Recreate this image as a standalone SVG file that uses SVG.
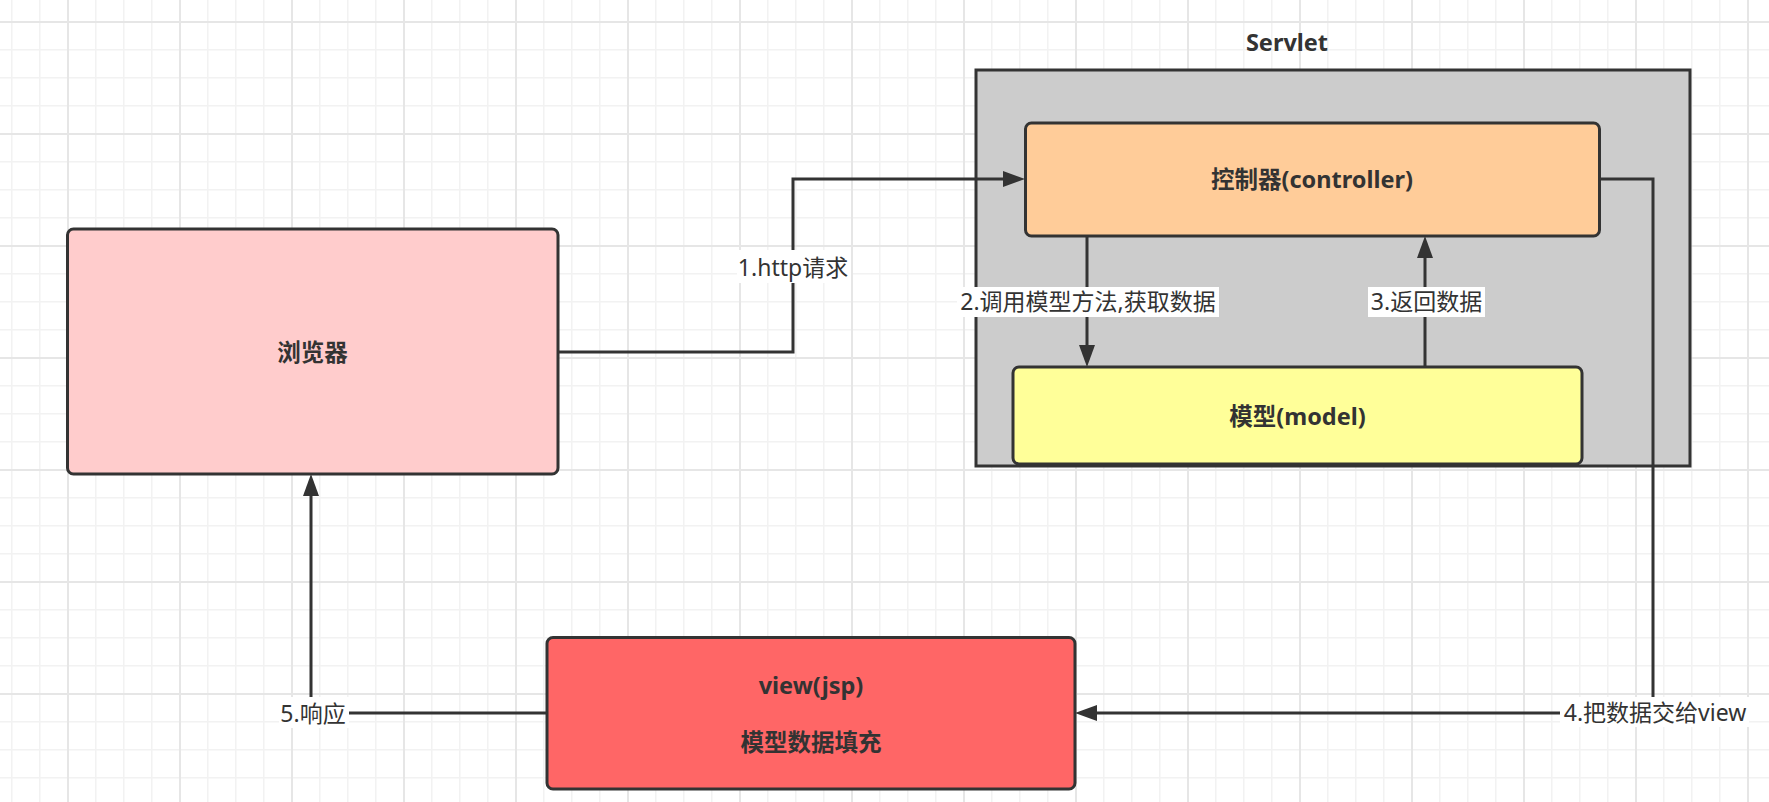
<svg xmlns="http://www.w3.org/2000/svg" width="1769" height="802" viewBox="0 0 1769 802">
<defs>
<pattern id="grid" patternUnits="userSpaceOnUse" x="67" y="21" width="112" height="112">
<rect x="0" y="0" width="112" height="112" fill="#ffffff"/>
<rect x="28" y="0" width="1.5" height="112" fill="#f2f2f2"/>
<rect x="56" y="0" width="1.5" height="112" fill="#f2f2f2"/>
<rect x="84" y="0" width="1.5" height="112" fill="#f2f2f2"/>
<rect x="0" y="28" width="112" height="1.5" fill="#f2f2f2"/>
<rect x="0" y="56" width="112" height="1.5" fill="#f2f2f2"/>
<rect x="0" y="84" width="112" height="1.5" fill="#f2f2f2"/>
<rect x="0" y="0" width="2" height="112" fill="#e6e6e6"/>
<rect x="0" y="0" width="112" height="2" fill="#e6e6e6"/>
</pattern>
<marker id="arrow" viewBox="0 0 22 16" refX="10" refY="8" markerWidth="22" markerHeight="16" markerUnits="userSpaceOnUse" orient="auto">
<path d="M0,0 L22,8 L0,16 Z" fill="#333333"/>
</marker>
<style>
.node{stroke:#333333;stroke-width:3}
.t{font-family:"Noto Sans","Noto Sans CJK SC",sans-serif;font-weight:bold;font-size:23.5px;fill:#333333;text-anchor:middle}
.lbl{font-family:"Noto Sans","Noto Sans CJK SC",sans-serif;font-size:23px;fill:#333333;text-anchor:middle}
.lbg{fill:#ffffff}
.edge{fill:none;stroke:#333333;stroke-width:3}
</style>
</defs>
<rect x="0" y="0" width="1769" height="802" fill="url(#grid)"/>

<g id="servlet">
<rect class="node" x="976" y="70" width="714" height="396" fill="#cccccc"/>
<text class="t" x="1287" y="51" font-size="23px">Servlet</text>
</g>

<g id="browser">
<rect class="node" x="67.5" y="229" width="490.5" height="245" rx="6" fill="#ffcccc"/>
<text class="t" x="312.5" y="361">浏览器</text>
</g>

<g id="controller">
<rect class="node" x="1025.5" y="123" width="574" height="113" rx="6" fill="#ffcc99"/>
<text class="t" x="1312" y="188">控制器(controller)</text>
</g>

<g id="model">
<rect class="node" x="1013" y="367" width="569" height="97" rx="6" fill="#ffff99"/>
<text class="t" x="1297.5" y="425">模型(model)</text>
</g>

<g id="view">
<rect class="node" x="547" y="637.5" width="528" height="151.5" rx="6" fill="#ff6666"/>
<text class="t" x="811" y="694">view(jsp)</text>
<text class="t" x="811" y="751">模型数据填充</text>
</g>

<g id="connectors">
<path class="edge" d="M558,352 L793,352 L793,179 L1013,179" marker-end="url(#arrow)"/>
<path class="edge" d="M1087,236 L1087,355" marker-end="url(#arrow)"/>
<path class="edge" d="M1425,367 L1425,248" marker-end="url(#arrow)"/>
<path class="edge" d="M1600,179 L1653,179 L1653,713 L1087,713" marker-end="url(#arrow)"/>
<path class="edge" d="M547,713 L311,713 L311,486" marker-end="url(#arrow)"/>

<rect class="lbg" x="737" y="250" width="114" height="33"/>
<text class="lbl" x="793" y="276">1.http请求</text>
<rect class="lbg" x="957" y="287" width="262" height="30"/>
<text class="lbl" x="1088" y="310">2.调用模型方法,获取数据</text>
<rect class="lbg" x="1368" y="287" width="117" height="30"/>
<text class="lbl" x="1426.5" y="310">3.返回数据</text>
<rect class="lbg" x="1560" y="697" width="189" height="30"/>
<text class="lbl" x="1655" y="721">4.把数据交给view</text>
<rect class="lbg" x="279" y="697" width="70" height="31"/>
<text class="lbl" x="313" y="722">5.响应</text>
</g>
</svg>
